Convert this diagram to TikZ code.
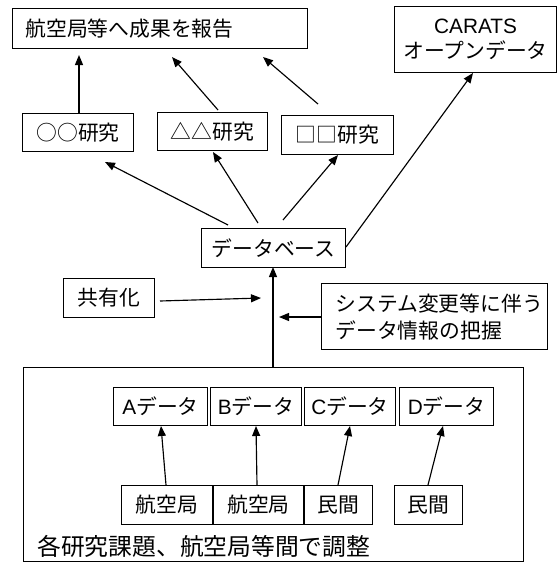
\documentclass[tikz,border=0pt]{standalone}
\usepackage{fontspec}
\setmainfont{Noto Sans CJK JP}
\newfontfamily\lat{Liberation Sans}
\usetikzlibrary{arrows.meta}
\begin{document}
\begin{tikzpicture}[x=1pt,y=-1pt,
  box/.style={draw, line width=1.15pt, inner sep=0pt, anchor=north west, align=center,
    font=\fontsize{20.8}{25}\selectfont},
  arr/.style={line width=1.15pt, -{Triangle[length=10pt,width=8pt]}}]
\useasboundingbox (0,0) rectangle (558,563);
% top boxes
\node[box, align=left, inner xsep=13pt, text width=269pt, minimum height=40pt] (report) at (12,8) {航空局等へ成果を報告};
\node[box, minimum width=162pt, minimum height=66pt] (carats) at (394,6) {{\lat CARATS}\\オープンデータ};
\node[box, minimum width=111pt, minimum height=38pt] (oo) at (22,113) {○○研究};
\node[box, minimum width=110pt, minimum height=38pt] (tri) at (157,112) {△△研究};
\node[box, minimum width=112pt, minimum height=39pt] (sq) at (281,115) {□□研究};
\node[box, minimum width=144pt, minimum height=39pt] (db) at (201,228) {データベース};
\node[box, minimum width=91pt, minimum height=39pt] (share) at (63,278) {共有化};
\node[box, align=left, inner xsep=14pt, text width=198pt, minimum height=66pt,
  font=\fontsize{20.8}{27}\selectfont] (sys) at (321,283) {システム変更等に伴う\\データ情報の把握};
% big box
\node[box, minimum width=500pt, minimum height=194pt] (big) at (23,367) {};
\node[box, minimum width=94pt, minimum height=38pt] (da) at (113,387) {{\lat A}データ};
\node[box, minimum width=91pt, minimum height=38pt] (dbb) at (210,387) {{\lat B}データ};
\node[box, minimum width=91pt, minimum height=38pt] (dc) at (304,387) {{\lat C}データ};
\node[box, minimum width=94pt, minimum height=38pt] (dd) at (399,387) {{\lat D}データ};
\node[box, minimum width=91pt, minimum height=39pt] (k1) at (121,485) {航空局};
\node[box, minimum width=90pt, minimum height=39pt] (k2) at (213,485) {航空局};
\node[box, minimum width=68pt, minimum height=39pt] (m1) at (304,485) {民間};
\node[box, minimum width=68pt, minimum height=39pt] (m2) at (394,485) {民間};
\node[anchor=west, inner sep=0pt, font=\fontsize{23.8}{27}\selectfont] (lbl) at (37,546) {各研究課題、航空局等間で調整};
% arrow endpoints
\coordinate (oo1) at (79,113);   \coordinate (rp1) at (79,55);
\coordinate (tri1) at (218,110); \coordinate (rp2) at (172,57);
\coordinate (sq1) at (318,104);  \coordinate (rp3) at (263,57);
\coordinate (db1) at (228,225);  \coordinate (oo2) at (105,162);
\coordinate (db2) at (258,223);  \coordinate (tri2) at (213,152);
\coordinate (db3) at (283,220);  \coordinate (sq2) at (338,155);
\coordinate (db4) at (346,247);  \coordinate (ca1) at (473,73);
\coordinate (big1) at (273,367); \coordinate (db5) at (273,267);
\coordinate (sh1) at (160,301);  \coordinate (mid1) at (261,298);
\coordinate (sys1) at (321,317); \coordinate (mid2) at (279,317);
\coordinate (k1a) at (166,485);  \coordinate (daa) at (161,426);
\coordinate (k2a) at (257,485);  \coordinate (dba) at (256,426);
\coordinate (m1a) at (338,485);  \coordinate (dca) at (350,426);
\coordinate (m2a) at (428,485);  \coordinate (dda) at (443,426);
% arrows
\draw[arr] (oo1) -- (rp1);
\draw[arr] (tri1) -- (rp2);
\draw[arr] (sq1) -- (rp3);
\draw[arr] (db1) -- (oo2);
\draw[arr] (db2) -- (tri2);
\draw[arr] (db3) -- (sq2);
\draw[arr] (db4) -- (ca1);
\draw[arr] (big1) -- (db5);
\draw[arr] (sh1) -- (mid1);
\draw[arr] (sys1) -- (mid2);
\draw[arr] (k1a) -- (daa);
\draw[arr] (k2a) -- (dba);
\draw[arr] (m1a) -- (dca);
\draw[arr] (m2a) -- (dda);
\end{tikzpicture}
\end{document}
